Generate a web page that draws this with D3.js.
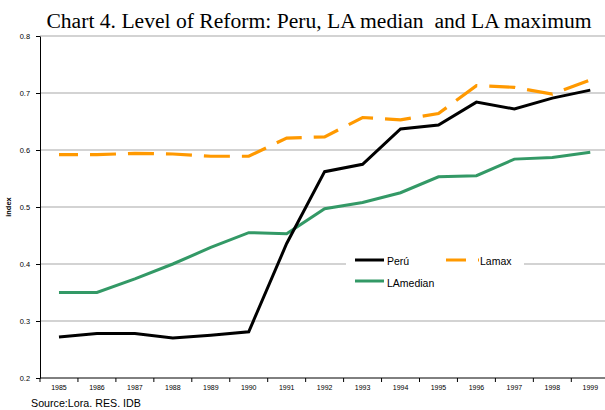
<!DOCTYPE html>
<html>
<head>
<meta charset="utf-8">
<script src="https://cdn.jsdelivr.net/npm/d3@7/dist/d3.min.js"></script>
<style>
  html, body { margin: 0; padding: 0; background: #fff; }
  svg { display: block; }
</style>
</head>
<body>
<svg id="chart" width="605" height="410"></svg>
<script>
const years = ["1985","1986","1987","1988","1989","1990","1991","1992","1993","1994","1995","1996","1997","1998","1999"];
const peru     = [0.272,0.278,0.278,0.270,0.275,0.281,0.436,0.562,0.575,0.637,0.644,0.684,0.672,0.691,0.705];
const lamax    = [0.592,0.592,0.594,0.593,0.589,0.589,0.621,0.623,0.657,0.653,0.664,0.713,0.710,0.698,0.723];
const lamedian = [0.350,0.350,0.374,0.400,0.429,0.455,0.453,0.497,0.508,0.525,0.553,0.555,0.584,0.587,0.596];
const yTicks = [0.2,0.3,0.4,0.5,0.6,0.7,0.8];
const titleText = "Chart 4. Level of Reform: Peru, LA median  and LA maximum";
const yLabel = "index";
const sourceText = "Source:Lora. RES. IDB";
const seriesNames = ["Perú","Lamax","LAmedian"];

(function () {
const svg = d3.select("#chart");
const pLeft = 40, pTop = 36, pBottom = 378, band = 37.95;
const x = d3.scaleBand().domain(years).range([pLeft, pLeft + band * years.length]).padding(0);
const y = d3.scaleLinear().domain([0.2, 0.8]).range([pBottom, pTop]);
const cx = d => x(d) + x.bandwidth() / 2;
const lf = "Liberation Sans, Arial, sans-serif";

// gridlines
svg.append("g").selectAll("line").data(yTicks.slice(1)).join("line")
  .attr("x1", pLeft).attr("x2", 605)
  .attr("y1", d => y(d)).attr("y2", d => y(d))
  .attr("stroke", "#c4c4c4").attr("stroke-width", 1.3);

// title
svg.append("text").attr("x", 319).attr("y", 27.5).attr("text-anchor", "middle")
  .attr("font-family", "Liberation Serif, Times New Roman, serif").attr("font-size", 21.6)
  .style("white-space", "pre").attr("fill", "#000").text(titleText);

// y axis
const yAxis = svg.append("g").attr("transform", `translate(${pLeft},0)`)
  .call(d3.axisLeft(y).tickValues(yTicks).tickFormat(d3.format(".1f")).tickSize(4).tickPadding(6).tickSizeOuter(0));
yAxis.select(".domain").attr("stroke", "#000").attr("stroke-width", 1);
yAxis.selectAll(".tick line").attr("stroke", "#000");
yAxis.selectAll("text").attr("font-family", lf).attr("font-size", 7.4).attr("fill", "#000");

svg.append("text").attr("transform", `translate(11,${(pTop + pBottom) / 2}) rotate(-90)`)
  .attr("text-anchor", "middle").attr("font-family", lf)
  .attr("font-size", 7.5).attr("font-weight", "bold").text(yLabel);

// x axis
const xAxis = svg.append("g").attr("transform", `translate(0,${pBottom})`)
  .call(d3.axisBottom(x).tickSize(0).tickPadding(7));
xAxis.select(".domain").remove();
xAxis.selectAll("text").attr("font-family", lf).attr("font-size", 7).attr("fill", "#000");
svg.append("line").attr("x1", pLeft).attr("x2", 605).attr("y1", pBottom).attr("y2", pBottom).attr("stroke", "#000");
svg.append("g").selectAll("line").data(years).join("line")
  .attr("x1", d => x(d)).attr("x2", d => x(d)).attr("y1", pBottom).attr("y2", pBottom + 4)
  .attr("stroke", "#000");

// lines
const line = d3.line().x((d, i) => cx(years[i])).y(d => y(d));
svg.append("path").datum(lamedian).attr("d", line).attr("fill", "none")
  .attr("stroke", "#339966").attr("stroke-width", 3);
svg.append("path").datum(lamax).attr("d", line).attr("fill", "none")
  .attr("stroke", "#FF9900").attr("stroke-width", 3.2)
  .attr("stroke-dasharray", "26,12").attr("stroke-dashoffset", 7);
svg.append("path").datum(peru).attr("d", line).attr("fill", "none")
  .attr("stroke", "#000").attr("stroke-width", 3);

// legend
const lg = svg.append("g");
lg.append("rect").attr("x", 346).attr("y", 250).attr("width", 178).attr("height", 42).attr("fill", "#fff");
lg.append("line").attr("x1", 355).attr("x2", 384).attr("y1", 260).attr("y2", 260).attr("stroke", "#000").attr("stroke-width", 3);
lg.append("text").attr("x", 387).attr("y", 264.5).attr("font-family", lf).attr("font-size", 10.5).text(seriesNames[0]);
lg.append("line").attr("x1", 446).attr("x2", 479).attr("y1", 260).attr("y2", 260).attr("stroke", "#FF9900").attr("stroke-width", 3.2)
  .attr("stroke-dasharray", "26,12").attr("stroke-dashoffset", 6);
lg.append("text").attr("x", 480).attr("y", 264.5).attr("font-family", lf).attr("font-size", 10.5).text(seriesNames[1]);
lg.append("line").attr("x1", 355).attr("x2", 384).attr("y1", 281).attr("y2", 281).attr("stroke", "#339966").attr("stroke-width", 3);
lg.append("text").attr("x", 387).attr("y", 286.5).attr("font-family", lf).attr("font-size", 10.5).text(seriesNames[2]);

// source
svg.append("text").attr("x", 31).attr("y", 407).attr("font-family", lf).attr("font-size", 10.7).text(sourceText);
})();
</script>
</body>
</html>
